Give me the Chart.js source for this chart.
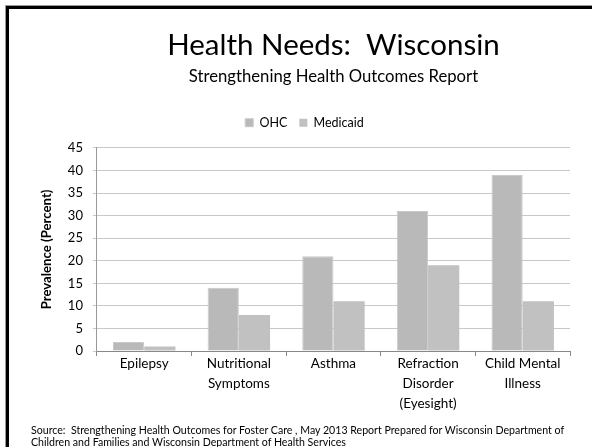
<!DOCTYPE html>
<html><head><meta charset="utf-8">
<script src="https://cdn.jsdelivr.net/npm/chart.js@4"></script>
<style>
html,body{margin:0;padding:0;background:#fff;}
#wrap{position:relative;width:592px;height:447px;overflow:hidden;}
#frame{position:absolute;left:6px;top:6px;width:600px;height:460px;border-top:3px solid #000;border-left:3px solid #000;box-shadow:-1px -1px 0 #999;}
canvas{position:absolute;left:0;top:0;}
#src{position:absolute;left:31px;top:423.5px;font-family:Lato,"Open Sans",sans-serif;font-size:10.6px;line-height:12.5px;color:#000;width:552px;}
</style></head>
<body><div id="wrap"><div id="frame"></div><canvas id="c" width="592" height="447"></canvas>
<div id="src">Source:&nbsp; Strengthening Health Outcomes for Foster Care , May 2013 Report Prepared for Wisconsin Department of Children and Families and Wisconsin Department of Health Services</div></div>
<script>
const categories = [["Epilepsy"], ["Nutritional","Symptoms"], ["Asthma"], ["Refraction","Disorder","(Eyesight)"], ["Child Mental","Illness"]];
const ohcValues = [2, 14, 21, 31, 39];
const medicaidValues = [1, 8, 11, 19, 11];
const seriesNames = ["OHC", "Medicaid"];
const FONT = "Lato";
const legendGap = {
  id: 'legendGap',
  beforeInit(chart) {
    const origFit = chart.legend.fit;
    chart.legend.fit = function () { origFit.call(this); this.height += 9; };
  }
};
new Chart(document.getElementById('c'), {
  type: 'bar',
  data: {
    labels: categories,
    datasets: [
      {label: seriesNames[0], data: ohcValues, backgroundColor: '#b9b9b9', borderColor: '#c9c9c9', borderWidth: 1},
      {label: seriesNames[1], data: medicaidValues, backgroundColor: '#c1c1c1', borderColor: '#c9c9c9', borderWidth: 0}
    ]
  },
  plugins: [legendGap],
  options: {
    responsive: false, animation: false,
    layout: {padding: {left: 39, right: 22, top: 0, bottom: 35}},
    datasets: {bar: {categoryPercentage: 0.66, barPercentage: 1}},
    plugins: {
      title: {display: true, fullSize: false, text: 'Health Needs:  Wisconsin', color: '#000', font: {family: FONT, size: 29.5, weight: 'normal'}, padding: {top: 28, bottom: 0}},
      subtitle: {display: true, fullSize: false, text: 'Strengthening Health Outcomes Report', color: '#000', font: {family: FONT, size: 16.7}, padding: {top: 3, bottom: 18}},
      legend: {display: true, position: 'top', labels: {color: '#000', font: {family: FONT, size: 12.5}, boxWidth: 8, boxHeight: 8, padding: 12}},
      tooltip: {enabled: false}
    },
    scales: {
      x: {
        grid: {display: true, drawOnChartArea: false, color: '#888', tickLength: 5, offset: true},
        border: {color: '#888'},
        ticks: {color: '#000', font: {family: FONT, size: 13.5, lineHeight: '20px'}, maxRotation: 0, padding: -2}
      },
      y: {
        min: 0, max: 45,
        ticks: {stepSize: 5, color: '#000', font: {family: FONT, size: 13}, padding: 10},
        grid: {color: '#c8c8c8', tickLength: 4},
        border: {color: '#999'},
        title: {display: true, text: 'Prevalence (Percent)', color: '#000', font: {family: FONT, size: 13.2, weight: 'bold'}, padding: {top: 0, bottom: 3}}
      }
    }
  }
});
</script></body></html>
